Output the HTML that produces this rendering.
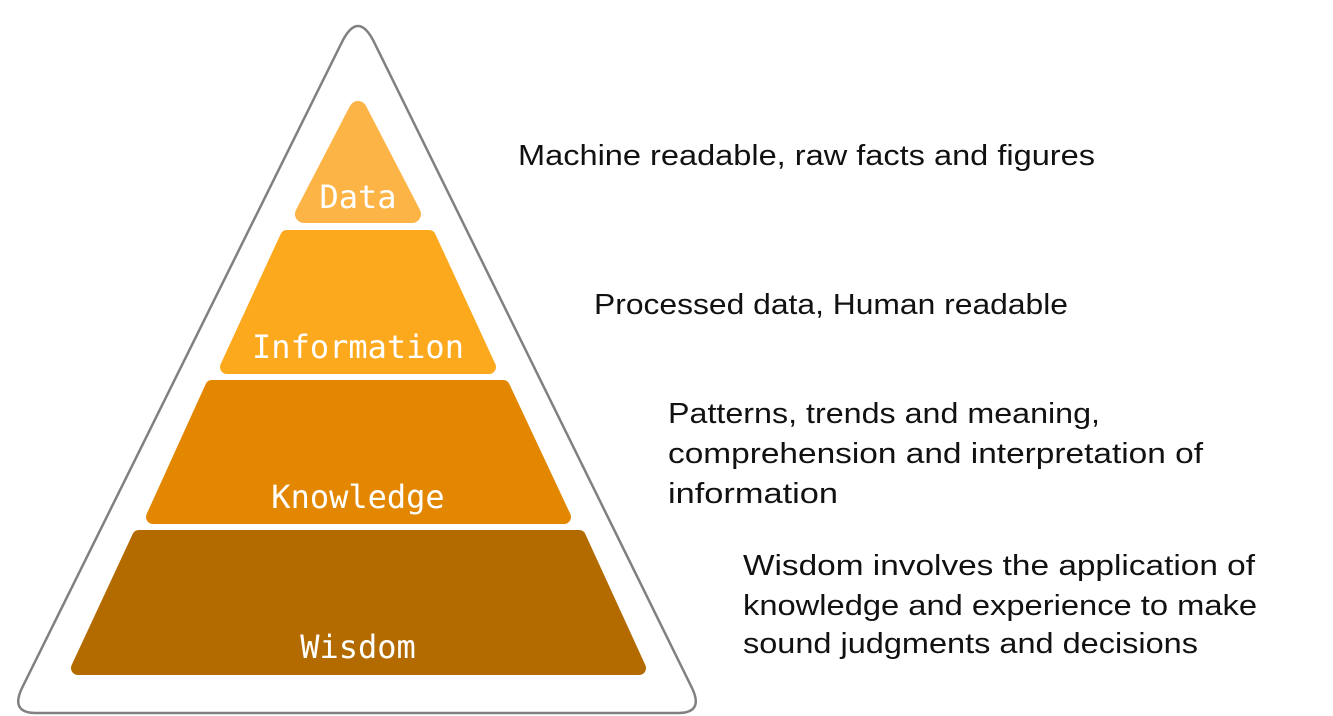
<!DOCTYPE html>
<html><head><meta charset="utf-8"><style>
html,body{margin:0;padding:0;background:#fff;}
svg{display:block;}
</style></head><body>
<svg width="1333" height="716" viewBox="0 0 1333 716" xmlns="http://www.w3.org/2000/svg">
<path d="M341,44 Q358,8 375,44 L692,688 Q704,713 678,713 L36,713 Q10,713 22,688 Z" fill="#fff" stroke="#808080" stroke-width="2.5"/>
<g stroke-linejoin="round">
<polygon points="358,110 304,214 412,214" fill="#FDB447" stroke="#FDB447" stroke-width="18"/>
<polygon points="287,237 429,237 489,367 227,367" fill="#FDA91E" stroke="#FDA91E" stroke-width="14"/>
<polygon points="212,387 503,387 564,517 153,517" fill="#E38701" stroke="#E38701" stroke-width="14"/>
<polygon points="139,537 579,537 639,668 78,668" fill="#B36B00" stroke="#B36B00" stroke-width="14"/>
</g>
<g font-family="'DejaVu Sans Mono','Liberation Mono',monospace" font-size="32" fill="#fff" text-anchor="middle">
<text x="358" y="208">Data</text>
<text x="358" y="358">Information</text>
<text x="358" y="508">Knowledge</text>
<text x="358" y="658">Wisdom</text>
</g>
<g font-family="'Liberation Sans',sans-serif" font-size="29" fill="#111">
<text x="518" y="165" textLength="577" lengthAdjust="spacingAndGlyphs">Machine readable, raw facts and figures</text>
<text x="594" y="314" textLength="474" lengthAdjust="spacingAndGlyphs">Processed data, Human readable</text>
<text x="668" y="423" textLength="432" lengthAdjust="spacingAndGlyphs">Patterns, trends and meaning,</text>
<text x="668" y="463" textLength="535" lengthAdjust="spacingAndGlyphs">comprehension and interpretation of</text>
<text x="668" y="503" textLength="170" lengthAdjust="spacingAndGlyphs">information</text>
<text x="743" y="575" textLength="512" lengthAdjust="spacingAndGlyphs">Wisdom involves the application of</text>
<text x="743" y="615" textLength="514" lengthAdjust="spacingAndGlyphs">knowledge and experience to make</text>
<text x="743" y="653" textLength="455" lengthAdjust="spacingAndGlyphs">sound judgments and decisions</text>
</g>
</svg>
</body></html>
